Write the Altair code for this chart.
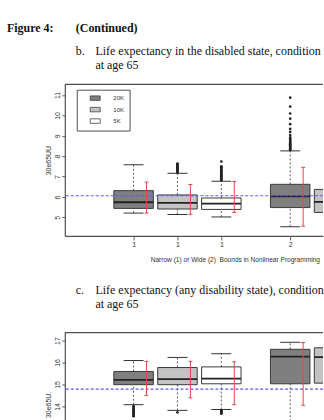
import altair as alt
import pandas as pd

SERIF = "Liberation Serif"
SANS = "Liberation Sans"

# ---------------- data ----------------
groups = ["20K", "10K", "5K", "20K", "10K"]
bounds = [1, 1, 1, 2, 2]
slots = [1, 2, 3, 4, 5]
group_order = ["20K", "10K", "5K"]
group_fill = ["#7f7f7f", "#c3c3c3", "#ffffff"]

# panel b: life expectancy in the disabled state (30e65UU)
b_lo = [5.21, 5.14, 5.02, 4.54, 4.60]
b_q1 = [5.44, 5.41, 5.39, 5.48, 5.24]
b_med = [5.74, 5.71, 5.67, 6.03, 5.76]
b_q3 = [6.31, 6.10, 5.95, 6.62, 6.37]
b_hi = [7.58, 7.16, 6.77, 8.26, 8.00]
b_red_lo = [5.21, 5.15, 5.24, 4.57]
b_red_hi = [6.73, 6.61, 6.76, 7.45]
b_ref = [6.06]
b_out_2 = [7.20, 7.24, 7.28, 7.32, 7.36, 7.40, 7.44, 7.48, 7.52, 7.56, 7.60, 7.64]
b_out_3 = [6.82, 6.86, 6.90, 6.94, 6.98, 7.02, 7.06, 7.10, 7.14, 7.18, 7.22, 7.26,
           7.30, 7.34, 7.38, 7.42, 7.46, 7.50, 7.74]
b_out_4 = [8.30, 8.34, 8.38, 8.42, 8.46, 8.50, 8.54, 8.58, 8.62, 8.66, 8.70, 8.75,
           8.80, 8.85, 8.92, 9.04, 9.19, 9.34, 9.57, 9.84, 10.09, 10.43, 10.87]
b_yticks = [5, 6, 7, 8, 9, 10, 11]
b_ydom = [4.09, 11.52]

# panel c: life expectancy, any disability state (30e65U.)
c_lo = [14.08, 13.82, 13.86, 12.60, 12.70]
c_q1 = [14.99, 14.99, 15.03, 15.03, 15.06]
c_med = [15.21, 15.24, 15.27, 16.27, 16.24]
c_q3 = [15.59, 15.77, 15.80, 16.60, 16.67]
c_hi = [16.09, 16.23, 16.40, 16.92, 16.95]
c_red_lo = [14.50, 14.39, 14.08, 14.05]
c_red_hi = [16.05, 16.05, 16.03, 16.91]
c_ref = [14.79]
c_out_1 = [14.02, 13.98, 13.94, 13.90, 13.86, 13.82, 13.78, 13.74, 13.70, 13.66,
           13.62, 13.58, 13.55]
c_out_2 = [13.73]
c_out_3 = [13.82, 13.79, 13.76, 13.73, 13.70, 13.67]
c_yticks = [14, 15, 16, 17]
c_ydom = [13.32, 17.36]

# ---------------- layout constants ----------------
GAP = 0.57
HALF = 0.45
CAP = 0.227
RED_DX = 0.295
RED_CAP = 0.045
XDOM = [-0.568, 5.318]
W = 259
FRAME = "#505050"
INK = "#333333"
BLUE = "#5a5af5"

XPOS = "datum.slot + (datum.bound - 1) * %s" % GAP
xs = alt.Scale(domain=XDOM, nice=False, zero=False)


def box_frame(lo, q1, med, q3, hi):
    return pd.DataFrame(dict(group=groups, bound=bounds, slot=slots,
                             lo=lo, q1=q1, med=med, q3=q3, hi=hi))


def out_frame(lists):
    rows = []
    for slot, vals in lists:
        i = slots.index(slot)
        for v in vals:
            rows.append(dict(slot=slot, bound=bounds[i], v=v))
    return pd.DataFrame(rows)


def panel(lo, q1, med, q3, hi, rlo, rhi, ref, outs, ydom, yticks, ytitle,
          height, show_x, show_legend, ytitle_y=None):
    ys = alt.Scale(domain=ydom, nice=False, zero=False)
    bdf = box_frame(lo, q1, med, q3, hi)
    base = alt.Chart(bdf).transform_calculate(
        xc=XPOS,
        xl=XPOS + " - %s" % HALF,
        xr=XPOS + " + %s" % HALF,
        cl=XPOS + " - %s" % CAP,
        cr=XPOS + " + %s" % CAP,
    )

    xticks = [s + (b - 1) * GAP for s, b in zip(slots, bounds)]
    tick_pairs = [(round(v, 2), b) for v, b in zip(xticks, bounds) if XDOM[0] <= v <= XDOM[1]]
    label_expr = "".join("abs(datum.value - %s) < 0.01 ? '%d' : " % (v, b) for v, b in tick_pairs) + "''"

    if show_x:
        xaxis = alt.Axis(values=[v for v, _ in tick_pairs], labelExpr=label_expr, grid=False,
                         tickSize=4, tickColor=INK, tickWidth=0.8,
                         domainColor=FRAME, domainWidth=1.2,
                         labelFont=SANS, labelFontSize=7, labelColor=INK, labelPadding=1,
                         title="Narrow (1) or Wide (2)\u00a0 Bounds in Nonlinear Programming",
                         titleFont=SANS, titleFontSize=6.6, titleFontWeight="normal",
                         titleColor=INK, titleX=170.5, titleAlign="center", titlePadding=9)
    else:
        xaxis = None

    yaxis_kw = dict(values=yticks, grid=False, labelAngle=270, labelAlign="center",
                    labelBaseline="bottom", tickSize=3, tickColor=INK, tickWidth=0.8,
                    domainColor=FRAME, domainWidth=1.2,
                    labelFont=SANS, labelFontSize=7, labelColor=INK, labelPadding=1,
                    title=ytitle, titleFont=SANS, titleFontSize=7, titleFontWeight="normal",
                    titleColor=INK, titlePadding=2)
    if ytitle_y is not None:
        yaxis_kw["titleY"] = ytitle_y
        yaxis_kw["titleAlign"] = "center"
    yaxis = alt.Axis(**yaxis_kw)

    def X(f):
        return alt.X(f, scale=xs, axis=xaxis)

    def Y(f):
        return alt.Y(f, scale=ys, axis=yaxis)

    fill_legend = None
    if show_legend:
        fill_legend = alt.Legend(
            orient="none", legendX=12, legendY=5.3, title=None,
            strokeColor=FRAME, fillColor="white", padding=5,
            symbolType="M-1.67,-0.75L1.67,-0.75L1.67,0.75L-1.67,0.75Z",
            symbolSize=36, symbolStrokeColor="#444", symbolStrokeWidth=0.8,
            symbolOffset=10, labelOffset=14.7, rowPadding=2.5,
            labelFont=SANS, labelFontSize=6, labelColor=INK,
            labelExpr="datum.label + '          '")

    box = base.mark_rect(stroke="#3a3a3a", strokeWidth=1, clip=True).encode(
        x=X("xl:Q"), x2="xr:Q", y=Y("q1:Q"), y2="q3:Q",
        fill=alt.Fill("group:N", scale=alt.Scale(domain=group_order, range=group_fill),
                      legend=fill_legend))
    whisk_up = base.mark_rule(color=INK, strokeWidth=0.8, strokeDash=[2, 2], clip=True).encode(
        x=X("xc:Q"), y=Y("q3:Q"), y2="hi:Q")
    whisk_dn = base.mark_rule(color=INK, strokeWidth=0.8, strokeDash=[2, 2], clip=True).encode(
        x=X("xc:Q"), y=Y("lo:Q"), y2="q1:Q")
    cap_up = base.mark_rule(color=INK, strokeWidth=1, clip=True).encode(
        x=X("cl:Q"), x2="cr:Q", y=Y("hi:Q"))
    cap_dn = base.mark_rule(color=INK, strokeWidth=1, clip=True).encode(
        x=X("cl:Q"), x2="cr:Q", y=Y("lo:Q"))
    median = base.mark_rule(color="#222", strokeWidth=1.8, clip=True).encode(
        x=X("xl:Q"), x2="xr:Q", y=Y("med:Q"))

    odf = out_frame(outs)
    outl = alt.Chart(odf).transform_calculate(xc=XPOS).mark_point(
        filled=True, size=7, color="#222", opacity=1, clip=True).encode(
        x=X("xc:Q"), y=Y("v:Q"))

    ref_line = alt.Chart(pd.DataFrame({"r": ref})).mark_rule(
        color=BLUE, strokeWidth=1.2, strokeDash=[3, 2], clip=True).encode(
        y=Y("r:Q"))

    n = len(rlo)
    rdf = pd.DataFrame(dict(bound=bounds[:n], slot=slots[:n], rlo=rlo, rhi=rhi))
    rbase = alt.Chart(rdf).transform_calculate(
        rx=XPOS + " + %s" % RED_DX,
        rl=XPOS + " + %s - %s" % (RED_DX, RED_CAP),
        rr=XPOS + " + %s + %s" % (RED_DX, RED_CAP))
    red = "#e2474b"
    red_bar = rbase.mark_rule(color=red, strokeWidth=1, clip=True).encode(
        x=X("rx:Q"), y=Y("rlo:Q"), y2="rhi:Q")
    red_top = rbase.mark_rule(color=red, strokeWidth=1, clip=True).encode(
        x=X("rl:Q"), x2="rr:Q", y=Y("rhi:Q"))
    red_bot = rbase.mark_rule(color=red, strokeWidth=1, clip=True).encode(
        x=X("rl:Q"), x2="rr:Q", y=Y("rlo:Q"))

    top = alt.Chart(pd.DataFrame({"t": [ydom[1]]})).mark_rule(
        color=FRAME, strokeWidth=1.2).encode(y=Y("t:Q"))

    layers = [box, whisk_up, whisk_dn, cap_up, cap_dn, median, outl,
              ref_line, red_bar, red_top, red_bot, top]
    return layers, height


def label(txt, x, y, bold=False):
    return alt.Chart(pd.DataFrame({"t": [txt]})).mark_text(
        align="left", baseline="alphabetic", font=SERIF, fontSize=12,
        fontWeight="bold" if bold else "normal", color="#111").encode(
        text="t:N", x=alt.value(x), y=alt.value(y))


p1_layers, h1 = panel(b_lo, b_q1, b_med, b_q3, b_hi, b_red_lo, b_red_hi, b_ref,
                      [(2, b_out_2), (3, b_out_3), (4, b_out_4)],
                      b_ydom, b_yticks, "30e65UU", 152, True, True)
p2_layers, h2 = panel(c_lo, c_q1, c_med, c_q3, c_hi, c_red_lo, c_red_hi, c_ref,
                      [(1, c_out_1), (2, c_out_2), (3, c_out_3)],
                      c_ydom, c_yticks, "30e65U.", 89, False, False, ytitle_y=72)

texts = [
    label("Figure 4:", -58, -52.3, bold=True),
    label("(Continued)", 11, -52.3, bold=True),
    label("b.", 11, -29.7),
    label("Life expectancy in the disabled state, condition", 30.7, -29.7),
    label("at age 65", 30.7, -15.3),
    label("c.", 11, 210.3),
    label("Life expectancy (any disability state), condition", 30.7, 210.3),
    label("at age 65", 30.7, 224.3),
]

p1 = alt.layer(*(p1_layers + texts)).properties(width=W, height=h1)
p2 = alt.layer(*p2_layers).properties(width=W, height=h2)

chart = alt.vconcat(p1, p2, spacing=21).resolve_scale(fill="independent").properties(
    padding={"left": 7, "top": 21, "right": 0, "bottom": 0},
    background="white",
).configure_view(stroke=None)

chart.save("out.html", embed_options={"renderer": "svg", "actions": False})
